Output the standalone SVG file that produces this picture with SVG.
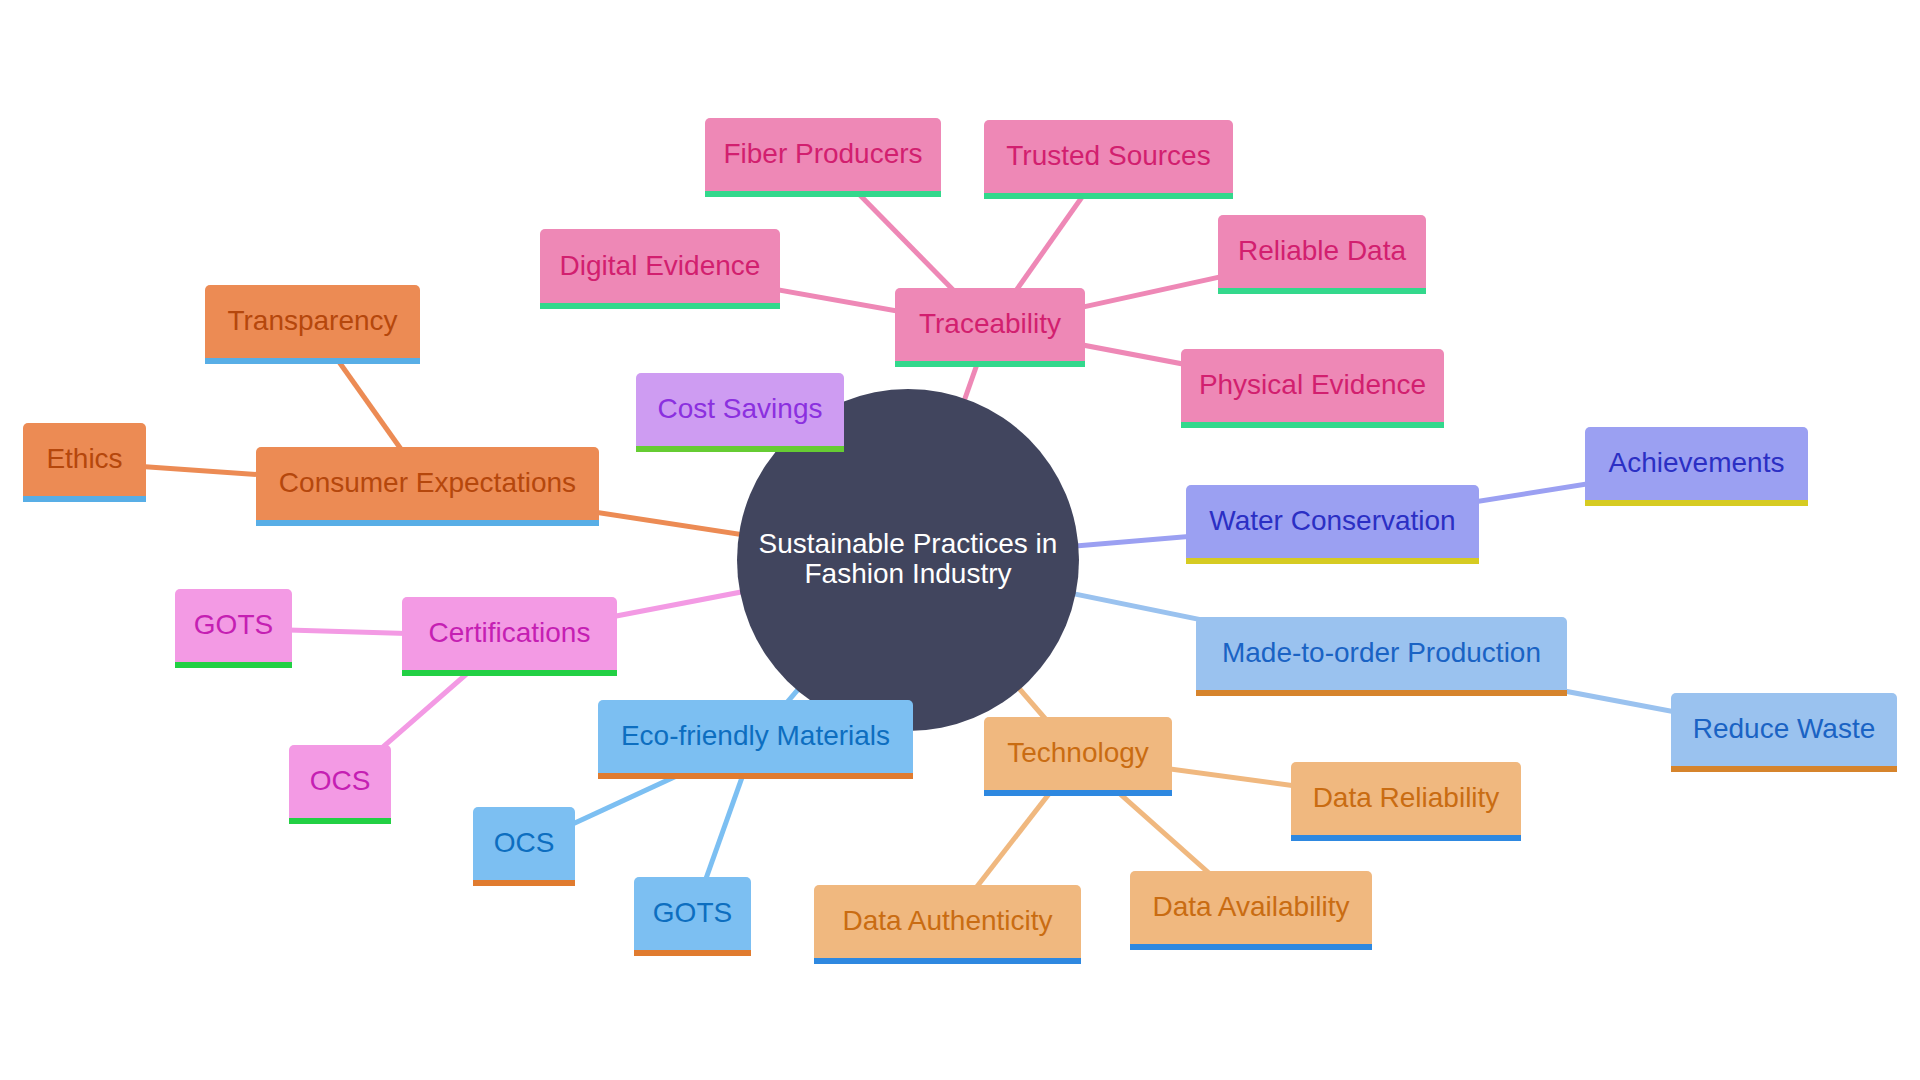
<svg xmlns="http://www.w3.org/2000/svg" width="1920" height="1080" viewBox="0 0 1920 1080">
<style>
text{font-family:"Liberation Sans",Arial,sans-serif;font-size:28px;text-anchor:middle}
.e{stroke-width:5;stroke-linecap:butt;fill:none}
.bar{stroke:none}
.tr .box{fill:#ee88b6}.tr .bar{fill:#33d88c}.tr text{fill:#d21f6f}.tr-e{stroke:#ee88b6}
.ce .box{fill:#ec8b54}.ce .bar{fill:#58aee6}.ce text{fill:#b5470c}.ce-e{stroke:#ec8b54}
.cs .box{fill:#ce9cf2}.cs .bar{fill:#66cc33}.cs text{fill:#8b30df}.cs-e{stroke:#ce9cf2}
.wc .box{fill:#9ba0f2}.wc .bar{fill:#d6cb22}.wc text{fill:#2b2fc4}.wc-e{stroke:#9ba0f2}
.mo .box{fill:#9ac2ef}.mo .bar{fill:#d6842c}.mo text{fill:#1a63c4}.mo-e{stroke:#9ac2ef}
.ct .box{fill:#f39ae4}.ct .bar{fill:#22d044}.ct text{fill:#c51fb3}.ct-e{stroke:#f39ae4}
.ec .box{fill:#7cbff2}.ec .bar{fill:#e07b2f}.ec text{fill:#0d6ec0}.ec-e{stroke:#7cbff2}
.te .box{fill:#f0b87f}.te .bar{fill:#2e88e0}.te text{fill:#c96c12}.te-e{stroke:#f0b87f}
.root circle{fill:#41455e}.root text{fill:#ffffff}
</style>
<rect width="1920" height="1080" fill="#ffffff"/>
<g id="connectors">
<line class="e tr-e" x1="908" y1="560" x2="990" y2="327.5"/>
<line class="e tr-e" x1="990" y1="327.5" x2="823" y2="157.5"/>
<line class="e tr-e" x1="990" y1="327.5" x2="1108.5" y2="159.5"/>
<line class="e tr-e" x1="990" y1="327.5" x2="660" y2="269"/>
<line class="e tr-e" x1="990" y1="327.5" x2="1322" y2="254.5"/>
<line class="e tr-e" x1="990" y1="327.5" x2="1312.5" y2="388.5"/>
<line class="e cs-e" x1="908" y1="560" x2="740" y2="412.5"/>
<line class="e ce-e" x1="908" y1="560" x2="427.5" y2="486.5"/>
<line class="e ce-e" x1="427.5" y1="486.5" x2="312.5" y2="324.5"/>
<line class="e ce-e" x1="427.5" y1="486.5" x2="84.5" y2="462.5"/>
<line class="e ct-e" x1="908" y1="560" x2="509.5" y2="636.5"/>
<line class="e ct-e" x1="509.5" y1="636.5" x2="233.5" y2="628.5"/>
<line class="e ct-e" x1="509.5" y1="636.5" x2="340" y2="784.5"/>
<line class="e ec-e" x1="908" y1="560" x2="755.5" y2="739.5"/>
<line class="e ec-e" x1="755.5" y1="739.5" x2="524" y2="846.5"/>
<line class="e ec-e" x1="755.5" y1="739.5" x2="692.5" y2="916.5"/>
<line class="e te-e" x1="908" y1="560" x2="1078" y2="756.5"/>
<line class="e te-e" x1="1078" y1="756.5" x2="947.5" y2="924.5"/>
<line class="e te-e" x1="1078" y1="756.5" x2="1251" y2="910.5"/>
<line class="e te-e" x1="1078" y1="756.5" x2="1406" y2="801"/>
<line class="e wc-e" x1="908" y1="560" x2="1332.5" y2="524.5"/>
<line class="e wc-e" x1="1332.5" y1="524.5" x2="1696.5" y2="466.5"/>
<line class="e mo-e" x1="908" y1="560" x2="1381.5" y2="656.5"/>
<line class="e mo-e" x1="1381.5" y1="656.5" x2="1784" y2="732.5"/>
</g>
<g id="root" class="root">
<circle cx="908" cy="560" r="171"/>
<text x="908" y="553">Sustainable Practices in</text>
<text x="908" y="583">Fashion Industry</text>
</g>
<g id="traceability" class="tr" transform="translate(895,288)"><rect class="box" width="190" height="79" rx="5"/><rect class="bar" y="73" width="190" height="6"/><text x="95" y="45">Traceability</text></g>
<g id="fiber-producers" class="tr" transform="translate(705,118)"><rect class="box" width="236" height="79" rx="5"/><rect class="bar" y="73" width="236" height="6"/><text x="118" y="45">Fiber Producers</text></g>
<g id="trusted-sources" class="tr" transform="translate(984,120)"><rect class="box" width="249" height="79" rx="5"/><rect class="bar" y="73" width="249" height="6"/><text x="124.5" y="45">Trusted Sources</text></g>
<g id="digital-evidence" class="tr" transform="translate(540,229)"><rect class="box" width="240" height="80" rx="5"/><rect class="bar" y="74" width="240" height="6"/><text x="120" y="46">Digital Evidence</text></g>
<g id="reliable-data" class="tr" transform="translate(1218,215)"><rect class="box" width="208" height="79" rx="5"/><rect class="bar" y="73" width="208" height="6"/><text x="104" y="45">Reliable Data</text></g>
<g id="physical-evidence" class="tr" transform="translate(1181,349)"><rect class="box" width="263" height="79" rx="5"/><rect class="bar" y="73" width="263" height="6"/><text x="131.5" y="45">Physical Evidence</text></g>
<g id="cost-savings" class="cs" transform="translate(636,373)"><rect class="box" width="208" height="79" rx="5"/><rect class="bar" y="73" width="208" height="6"/><text x="104" y="45">Cost Savings</text></g>
<g id="transparency" class="ce" transform="translate(205,285)"><rect class="box" width="215" height="79" rx="5"/><rect class="bar" y="73" width="215" height="6"/><text x="107.5" y="45">Transparency</text></g>
<g id="ethics" class="ce" transform="translate(23,423)"><rect class="box" width="123" height="79" rx="5"/><rect class="bar" y="73" width="123" height="6"/><text x="61.5" y="45">Ethics</text></g>
<g id="consumer-expectations" class="ce" transform="translate(256,447)"><rect class="box" width="343" height="79" rx="5"/><rect class="bar" y="73" width="343" height="6"/><text x="171.5" y="45">Consumer Expectations</text></g>
<g id="gots-cert" class="ct" transform="translate(175,589)"><rect class="box" width="117" height="79" rx="5"/><rect class="bar" y="73" width="117" height="6"/><text x="58.5" y="45">GOTS</text></g>
<g id="certifications" class="ct" transform="translate(402,597)"><rect class="box" width="215" height="79" rx="5"/><rect class="bar" y="73" width="215" height="6"/><text x="107.5" y="45">Certifications</text></g>
<g id="ocs-cert" class="ct" transform="translate(289,745)"><rect class="box" width="102" height="79" rx="5"/><rect class="bar" y="73" width="102" height="6"/><text x="51" y="45">OCS</text></g>
<g id="eco-friendly-materials" class="ec" transform="translate(598,700)"><rect class="box" width="315" height="79" rx="5"/><rect class="bar" y="73" width="315" height="6"/><text x="157.5" y="45">Eco-friendly Materials</text></g>
<g id="ocs-eco" class="ec" transform="translate(473,807)"><rect class="box" width="102" height="79" rx="5"/><rect class="bar" y="73" width="102" height="6"/><text x="51" y="45">OCS</text></g>
<g id="gots-eco" class="ec" transform="translate(634,877)"><rect class="box" width="117" height="79" rx="5"/><rect class="bar" y="73" width="117" height="6"/><text x="58.5" y="45">GOTS</text></g>
<g id="technology" class="te" transform="translate(984,717)"><rect class="box" width="188" height="79" rx="5"/><rect class="bar" y="73" width="188" height="6"/><text x="94" y="45">Technology</text></g>
<g id="data-authenticity" class="te" transform="translate(814,885)"><rect class="box" width="267" height="79" rx="5"/><rect class="bar" y="73" width="267" height="6"/><text x="133.5" y="45">Data Authenticity</text></g>
<g id="data-availability" class="te" transform="translate(1130,871)"><rect class="box" width="242" height="79" rx="5"/><rect class="bar" y="73" width="242" height="6"/><text x="121" y="45">Data Availability</text></g>
<g id="data-reliability" class="te" transform="translate(1291,762)"><rect class="box" width="230" height="79" rx="5"/><rect class="bar" y="73" width="230" height="6"/><text x="115" y="45">Data Reliability</text></g>
<g id="water-conservation" class="wc" transform="translate(1186,485)"><rect class="box" width="293" height="79" rx="5"/><rect class="bar" y="73" width="293" height="6"/><text x="146.5" y="45">Water Conservation</text></g>
<g id="achievements" class="wc" transform="translate(1585,427)"><rect class="box" width="223" height="79" rx="5"/><rect class="bar" y="73" width="223" height="6"/><text x="111.5" y="45">Achievements</text></g>
<g id="made-to-order-production" class="mo" transform="translate(1196,617)"><rect class="box" width="371" height="79" rx="5"/><rect class="bar" y="73" width="371" height="6"/><text x="185.5" y="45">Made-to-order Production</text></g>
<g id="reduce-waste" class="mo" transform="translate(1671,693)"><rect class="box" width="226" height="79" rx="5"/><rect class="bar" y="73" width="226" height="6"/><text x="113" y="45">Reduce Waste</text></g>
</svg>
